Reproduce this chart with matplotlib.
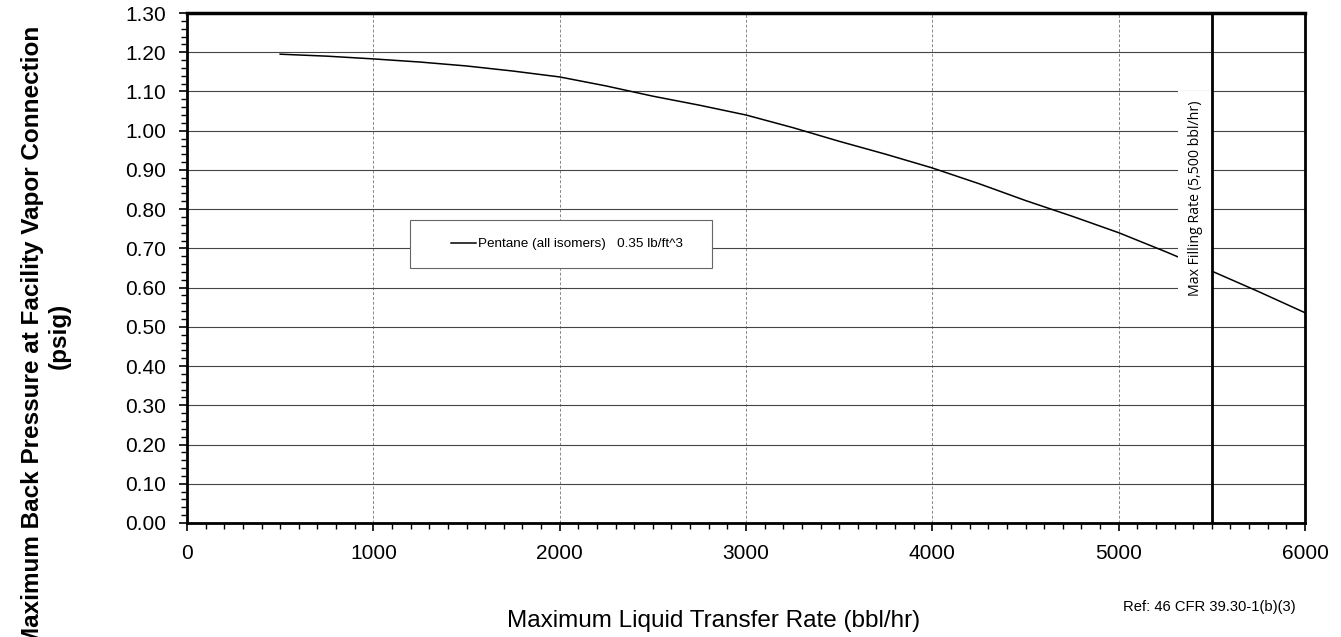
import numpy as np
import matplotlib.pyplot as plt
from matplotlib.patches import Rectangle
from matplotlib.ticker import MultipleLocator

# curve
rate = [500, 750, 1000, 1250, 1500, 1750, 2000, 2250, 2500, 2750, 3000, 3250,
        3500, 3750, 4000, 4250, 4500, 4750, 5000, 5250, 5500, 5750, 6000]
pressure = [1.195, 1.190, 1.183, 1.175, 1.165, 1.152, 1.137, 1.114, 1.088, 1.065,
            1.040, 1.008, 0.973, 0.940, 0.905, 0.865, 0.822, 0.782, 0.740, 0.692,
            0.642, 0.590, 0.536]
max_fill = 5500
series_label = 'Pentane (all isomers)   0.35 lb/ft^3'

plt.rcParams['font.family'] = ['Liberation Sans', 'DejaVu Sans']

fig = plt.figure(figsize=(13.41, 6.37), dpi=100)
ax = fig.add_axes([187/1341, 1 - 523/637, (1305-187)/1341, (523-13)/637])

ax.plot(rate, pressure, color='black', lw=1.1, label=series_label, zorder=3)
ax.axvline(max_fill, color='black', lw=2, zorder=5)

ax.set_xlim(0, 6000)
ax.set_ylim(0, 1.30)
ax.xaxis.set_major_locator(MultipleLocator(1000))
ax.xaxis.set_minor_locator(MultipleLocator(100))
ax.yaxis.set_major_locator(MultipleLocator(0.1))
ax.yaxis.set_minor_locator(MultipleLocator(0.02))
ax.yaxis.set_major_formatter(plt.FormatStrFormatter('%.2f'))

ax.grid(axis='y', which='major', color='#444444', lw=0.8)
ax.grid(axis='x', which='major', color='#888888', lw=0.7, ls=(0, (3, 2)))
ax.set_axisbelow(True)

ax.tick_params(which='major', length=6, width=1.2, labelsize=15, direction='out')
ax.tick_params(which='minor', length=4, width=1)
ax.tick_params(axis='x', pad=9)
ax.tick_params(axis='y', pad=9)
for s in ax.spines.values():
    s.set_linewidth(2)
ax.spines['top'].set_linewidth(2.5)

ax.text(5410, 0.828, 'Max Filling Rate (5,500 bbl/hr)', rotation=90,
        ha='center', va='center', fontsize=10.2, family=['Open Sans', 'DejaVu Sans'],
        bbox=dict(facecolor='white', edgecolor='none', pad=7), zorder=4)

# legend box, Excel style
ax.add_patch(Rectangle((0.1995, 0.5), 0.2701, 0.094, transform=ax.transAxes,
                       facecolor='white', edgecolor='#666666', lw=0.8, zorder=4))
leg = ax.legend(loc='center', bbox_to_anchor=(0.3403, 0.547), fontsize=9.7,
                frameon=False, handlelength=1.8, borderpad=0, handletextpad=0.2)
leg.set_zorder(6)

fig.text(714/1341, 1 - 621/637, 'Maximum Liquid Transfer Rate (bbl/hr)',
         ha='center', va='center', fontsize=17.5)
fig.text(46/1341, 1 - 336/637,
         'Maximum Back Pressure at Facility Vapor Connection\n(psig)',
         ha='center', va='center', rotation=90, fontsize=17.5, fontweight='bold')
fig.text(1209/1341, 1 - 607/637, 'Ref: 46 CFR 39.30-1(b)(3)',
         ha='center', va='center', fontsize=10.6)

fig.savefig('out.png', dpi=100)
